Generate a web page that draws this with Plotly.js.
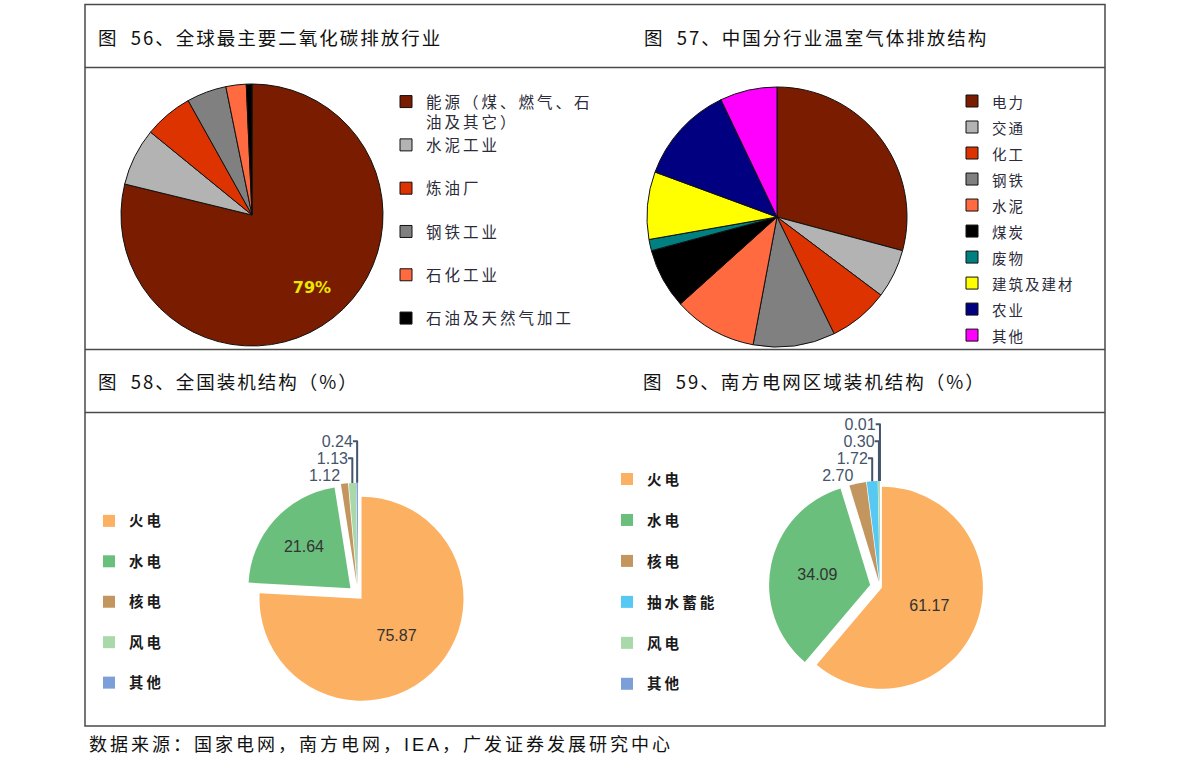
<!DOCTYPE html>
<html>
<head>
<meta charset="utf-8">
<script src="https://cdn.plot.ly/plotly-3.0.1.min.js"></script>
<style>
  html, body { margin: 0; padding: 0; background: #fff; }
  #chart { width: 1191px; height: 774px; }
</style>
</head>
<body>
<div id="chart"></div>
<script>
// fig 56: global CO2 emitting sectors (share, %)
var co2Sectors = ['能源（煤、燃气、石<br>油及其它）', '水泥工业', '炼油厂', '钢铁工业', '石化工业', '石油及天然气加工'];
var co2Share = [78.8, 7.1, 6.0, 4.9, 2.5, 0.7];
var co2Colors = ['#7a1c00', '#b3b3b3', '#dc3300', '#808080', '#ff6a40', '#000000'];

// fig 57: China GHG emissions by sector (share, %)
var ghgSectors = ['电力', '交通', '化工', '钢铁', '水泥', '煤炭', '废物', '建筑及建材', '农业', '其他'];
var ghgShare = [29.2, 6.1, 7.5, 10.2, 10.4, 7.5, 1.4, 8.4, 12.3, 7.1];
var ghgColors = ['#7a1c00', '#b3b3b3', '#dc3300', '#808080', '#ff6a40', '#000000', '#008080', '#ffff00', '#000080', '#ff00ff'];

// fig 58: national installed capacity (%)
var capTypes = ['火电', '水电', '核电', '风电', '其他'];
var capShare = [75.87, 21.64, 1.12, 1.13, 0.24];
var capColors = ['#fbb062', '#6bbf7d', '#c4965f', '#a9d9a9', '#7b9fd6'];
var capPull = [0.05, 0.1, 0.1, 0.1, 0.1];

// fig 59: China Southern Grid installed capacity (%)
var csgTypes = ['火电', '水电', '核电', '抽水蓄能', '风电', '其他'];
var csgShare = [61.17, 34.09, 2.70, 1.72, 0.30, 0.01];
var csgColors = ['#fbb062', '#6bbf7d', '#c4965f', '#55c8f3', '#a9d9a9', '#7b9fd6'];
var csgPull = [0.02, 0.1, 0.05, 0.05, 0.05, 0.05];

var W = 1191, H = 774;
function px(x) { return x / W; }
function py(y) { return 1 - y / H; }

var CJK = '"Noto Sans CJK SC", sans-serif';
var NUM = 'Arial, "Liberation Sans", sans-serif';
var spaced = function (s, ls) { return '<span style="letter-spacing:' + (ls || 3) + 'px">' + s + '</span>'; };

// labels padded so that legend rows get the spacing of the original
var co2Labels = co2Sectors.map(function (s) {
    var lines = s.split('<br>').map(function (l) { return spaced(l); });
    return lines.length > 1 ? lines.join('<br>') : lines[0] + '<br>&nbsp;';
});
var ghgLabels = ghgSectors.map(function (s) {
    return '<span style="font-size:14.5px;letter-spacing:2px">' + s + '</span>';
});
var capLabels = capTypes.map(function (s) { return spaced(s) + '<br>&nbsp;'; });
var csgLabels = csgTypes.map(function (s) { return spaced(s) + '<br>&nbsp;'; });

var pie56 = {
    type: 'pie',
    labels: co2Labels,
    values: co2Share,
    sort: false,
    direction: 'clockwise',
    rotation: 0,
    marker: {colors: co2Colors, line: {color: '#111', width: 1}},
    // only the energy slice carries a label, set a little off centre like the original
    texttemplate: co2Share.map(function (v, i) {
        return i === 0 ? '&nbsp;<br>&nbsp;<br>&nbsp;&nbsp;&nbsp;&nbsp;&nbsp;&nbsp;&nbsp;%{percent:.0%}' : '';
    }),
    textposition: 'inside',
    insidetextorientation: 'horizontal',
    insidetextfont: {family: '"DejaVu Sans", Verdana, sans-serif', size: 16, color: '#e8e800', weight: 'bold'},
    domain: {x: [px(121), px(383)], y: [py(346), py(84)]},
    hoverinfo: 'none',
    legend: 'legend',
    legendgroup: 'g56'
};

var pie57 = {
    type: 'pie',
    labels: ghgLabels,
    values: ghgShare,
    sort: false,
    direction: 'clockwise',
    rotation: 0,
    marker: {colors: ghgColors, line: {color: '#111', width: 1}},
    textinfo: 'none',
    domain: {x: [px(647), px(907)], y: [py(347), py(87)]},
    hoverinfo: 'none',
    legend: 'legend2',
    legendgroup: 'g57'
};

var pie58 = {
    type: 'pie',
    labels: capLabels,
    values: capShare,
    sort: false,
    direction: 'clockwise',
    rotation: 0,
    pull: capPull,
    marker: {colors: capColors, line: {width: 0}},
    texttemplate: '%{value:.2f}',
    textposition: 'auto',
    insidetextfont: {family: NUM, size: 16, color: '#333'},
    outsidetextfont: {family: NUM, size: 16, color: '#44546a'},
    domain: {x: [px(245.8), px(470.2)], y: [py(707.2), py(482.8)]},
    hoverinfo: 'none',
    legend: 'legend3',
    legendgroup: 'g58'
};

var pie59 = {
    type: 'pie',
    labels: csgLabels,
    values: csgShare,
    sort: false,
    direction: 'clockwise',
    rotation: 0,
    pull: csgPull,
    marker: {colors: csgColors, line: {width: 0}},
    texttemplate: '%{value:.2f}',
    textposition: 'auto',
    insidetextfont: {family: NUM, size: 16, color: '#333'},
    outsidetextfont: {family: NUM, size: 16, color: '#44546a'},
    domain: {x: [px(768.9), px(991.1)], y: [py(698.1), py(475.9)]},
    hoverinfo: 'none',
    legend: 'legend4',
    legendgroup: 'g59'
};

function frameLine(x0, y0, x1, y1) {
    return {type: 'line', xref: 'paper', yref: 'paper',
        x0: px(x0), y0: py(y0), x1: px(x1), y1: py(y1),
        line: {color: '#4a4a4a', width: 1.5}};
}

function title(text, x, y) {
    return {text: spaced(text, 2), xref: 'paper', yref: 'paper', x: px(x), y: py(y),
        xanchor: 'left', yanchor: 'middle', showarrow: false,
        font: {family: CJK, size: 18.5, color: '#111'}};
}

var legendBase = {xanchor: 'left', yanchor: 'top', bgcolor: 'rgba(0,0,0,0)', borderwidth: 0};

var layout = {
    width: W,
    height: H,
    margin: {l: 0, r: 0, t: 0, b: 0},
    paper_bgcolor: '#fff',
    showlegend: true,
    legend: Object.assign({}, legendBase, {x: px(386), y: py(85), valign: 'top',
        font: {family: CJK, size: 15.5, color: '#2b2b3a'}}),
    legend2: Object.assign({}, legendBase, {x: px(952), y: py(83),
        font: {family: CJK, size: 17.7, color: '#2b2b3a'}}),
    legend3: Object.assign({}, legendBase, {x: px(89), y: py(505), valign: 'top',
        font: {family: CJK, size: 14.4, color: '#1a1a1a', weight: 'bold'}}),
    legend4: Object.assign({}, legendBase, {x: px(607), y: py(463), valign: 'top',
        font: {family: CJK, size: 14.6, color: '#1a1a1a', weight: 'bold'}}),
    shapes: [
        {type: 'rect', xref: 'paper', yref: 'paper', x0: px(85), y0: py(726), x1: px(1105), y1: py(4.5),
            line: {color: '#4a4a4a', width: 1.5}},
        frameLine(85, 67.5, 1105, 67.5),
        frameLine(85, 349.5, 1105, 349.5),
        frameLine(85, 412.5, 1105, 412.5)
    ],
    annotations: [
        title('图&nbsp;&nbsp;56、全球最主要二氧化碳排放行业', 96, 37),
        title('图&nbsp;&nbsp;57、中国分行业温室气体排放结构', 642, 37),
        title('图&nbsp;&nbsp;58、全国装机结构（%）', 96, 381),
        title('图&nbsp;&nbsp;59、南方电网区域装机结构（%）', 641, 381),
        {text: spaced('数据来源：国家电网，南方电网，<span style="font-family:Arial">IEA</span>，广发证券发展研究中心', 3),
            xref: 'paper', yref: 'paper', x: px(87), y: py(743), xanchor: 'left', yanchor: 'middle',
            showarrow: false, font: {family: CJK, size: 18, color: '#111'}}
    ]
};

Plotly.newPlot('chart', [pie56, pie57, pie58, pie59], layout, {staticPlot: true});
</script>
</body>
</html>
